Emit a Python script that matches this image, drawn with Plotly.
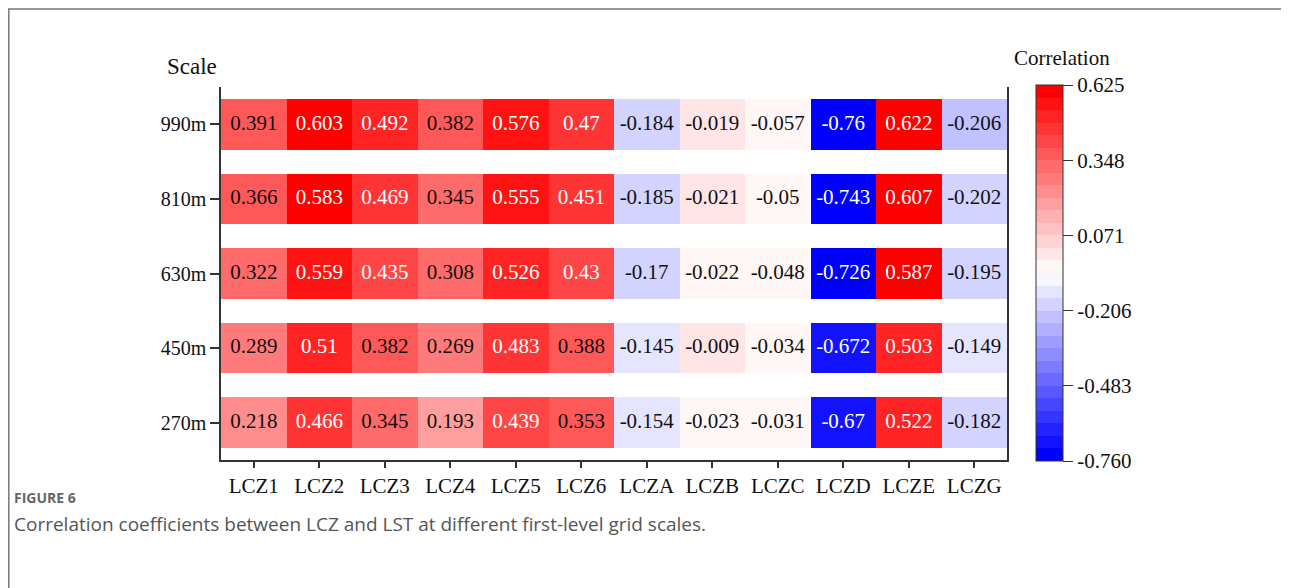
import plotly.graph_objects as go

# ---- data ----
zones = ["LCZ1", "LCZ2", "LCZ3", "LCZ4", "LCZ5", "LCZ6", "LCZA", "LCZB", "LCZC", "LCZD", "LCZE", "LCZG"]
scales = ["270m", "450m", "630m", "810m", "990m"]
r270 = ["0.218", "0.466", "0.345", "0.193", "0.439", "0.353", "-0.154", "-0.023", "-0.031", "-0.67", "0.522", "-0.182"]
r450 = ["0.289", "0.51", "0.382", "0.269", "0.483", "0.388", "-0.145", "-0.009", "-0.034", "-0.672", "0.503", "-0.149"]
r630 = ["0.322", "0.559", "0.435", "0.308", "0.526", "0.43", "-0.17", "-0.022", "-0.048", "-0.726", "0.587", "-0.195"]
r810 = ["0.366", "0.583", "0.469", "0.345", "0.555", "0.451", "-0.185", "-0.021", "-0.05", "-0.743", "0.607", "-0.202"]
r990 = ["0.391", "0.603", "0.492", "0.382", "0.576", "0.47", "-0.184", "-0.019", "-0.057", "-0.76", "0.622", "-0.206"]
cbar_ticks = [-0.760, -0.483, -0.206, 0.071, 0.348, 0.625]
zmin, zmax = -0.760, 0.625
n_bands = 30

rows_txt = [r270, r450, r630, r810, r990]
z = [[float(v) for v in row] for row in rows_txt]

# ---- discrete bwr colorscale ----
def bwr(t):
    if t <= 0.5:
        a = int(round(255 * 2 * t))
        return f"rgb({a},{a},255)"
    a = int(round(255 * 2 * (1 - t)))
    return f"rgb(255,{a},{a})"

cs = []
for k in range(n_bands):
    c = bwr(k / (n_bands - 1))
    cs.append([k / n_bands, c])
    cs.append([(k + 1) / n_bands, c])

OFF = 8  # page body margin
W, H = 1289 - OFF, 588 - OFF
L, R, T, B = 221 - OFF, 1007 - OFF, 87 - OFF, 460 - OFF
def px(x):
    return (x - OFF - L) / (R - L)
def py(y):
    return (B - (y - OFF)) / (B - T)

FONT = "Liberation Serif"

fig = go.Figure()
fig.add_trace(go.Heatmap(
    z=z, x=zones, y=scales, zmin=zmin, zmax=zmax, colorscale=cs,
    ygap=24, xgap=0, hoverinfo="skip",
    colorbar=dict(
        x=px(1036), xanchor="left", xpad=0,
        y=py(273), yanchor="middle", ypad=0,
        len=376, lenmode="pixels", thickness=27, thicknessmode="pixels",
        outlinewidth=1, outlinecolor="#333",
        tickvals=cbar_ticks, ticktext=[f"{v:.3f}" for v in cbar_ticks],
        ticks="outside", ticklen=10, tickwidth=1, tickcolor="#333",
        tickfont=dict(family=FONT, size=21, color="#111"),
    ),
))

# cell labels
xs, ys, ts, cols = [], [], [], []
for s, row in zip(scales, rows_txt):
    for zn, v in zip(zones, row):
        xs.append(zn); ys.append(s); ts.append(v)
        cols.append("white" if abs(float(v)) >= 0.4 else "#111")
fig.add_trace(go.Scatter(
    x=xs, y=ys, text=ts, mode="text", hoverinfo="skip", showlegend=False,
    textfont=dict(family=FONT, size=21, color=cols),
))

fig.update_xaxes(
    range=[-0.5, len(zones) - 0.5],
    showline=True, linecolor="#333", linewidth=1.5, mirror=False,
    ticks="outside", ticklen=6, tickcolor="#333", tickwidth=1.5,
    tickfont=dict(family=FONT, size=21, color="#111"),
    showgrid=False, zeroline=False,
)
fig.update_yaxes(
    range=[-0.5, len(scales) - 0.5],
    showline=True, linecolor="#333", linewidth=1.5, mirror=True,
    ticks="outside", ticklen=9, tickcolor="#333", tickwidth=1.5,
    tickfont=dict(family=FONT, size=20, color="#111"),
    showgrid=False, zeroline=False,
)

fig.add_annotation(text="Scale", x=px(192), y=py(67), xref="paper", yref="paper",
                   showarrow=False, font=dict(family=FONT, size=23, color="#111"),
                   xanchor="center", yanchor="middle")
fig.add_annotation(text="Correlation", x=px(1062), y=py(58), xref="paper", yref="paper",
                   showarrow=False, font=dict(family=FONT, size=21, color="#111"),
                   xanchor="center", yanchor="middle")
fig.add_annotation(text="<b>FIGURE 6</b>", x=px(12), y=py(497), xref="paper", yref="paper",
                   showarrow=False, font=dict(family="Open Sans", size=14, color="#666"),
                   xanchor="left", yanchor="middle")
fig.add_annotation(text="Correlation coefficients between LCZ and LST at different first-level grid scales.",
                   x=px(12), y=py(524), xref="paper", yref="paper",
                   showarrow=False, font=dict(family="Open Sans", size=19, color="#555"),
                   xanchor="left", yanchor="middle")

fig.add_shape(type="rect", xref="paper", yref="paper",
              x0=px(8.8), x1=px(1300), y0=py(600), y1=py(9),
              line=dict(color="#777", width=1.5), fillcolor="rgba(0,0,0,0)", layer="below")

fig.update_layout(
    width=W, height=H, margin=dict(l=L, r=W - R, t=T, b=H - B, pad=0, autoexpand=False),
    paper_bgcolor="white", plot_bgcolor="white", showlegend=False,
)
fig.write_html("out.html")
